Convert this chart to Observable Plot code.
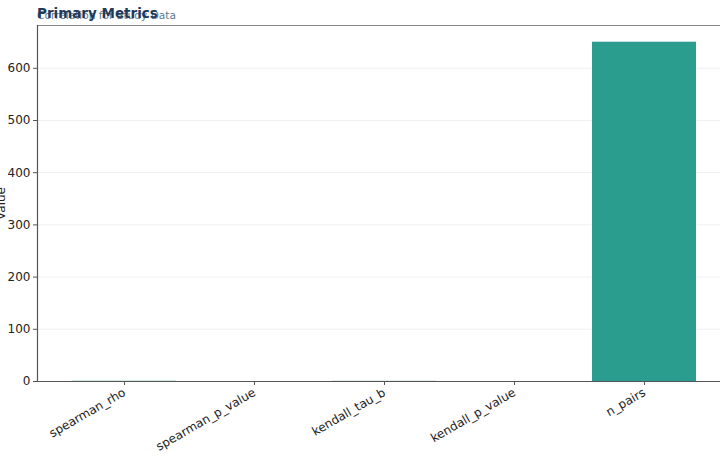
<!DOCTYPE html>
<html>
<head>
<meta charset="utf-8">
<script src="https://cdn.jsdelivr.net/npm/d3@7"></script>
<script src="https://cdn.jsdelivr.net/npm/@observablehq/plot@0.6"></script>
<style>
  html, body { margin: 0; padding: 0; background: #fff; overflow: hidden; }
  #wrap { position: relative; width: 720px; height: 460px; font-family: "DejaVu Sans", sans-serif; }
  #title { position: absolute; left: 37px; top: 5px; font-size: 13.5px; font-weight: bold; color: #1f3a5a; white-space: nowrap; z-index: 2; }
  #subtitle { position: absolute; left: 37px; top: 9px; font-size: 10.6px; color: #5b7a8f; white-space: nowrap; z-index: 1; }
  #chart { position: absolute; left: 0; top: 0; }
</style>
</head>
<body>
<div id="wrap">
  <div id="chart"></div>
  <div id="subtitle"></div>
  <div id="title"></div>
</div>
<script>
const titleText = "Primary Metrics";
const subtitleText = "Correlation for Study Data";
const categories = ["spearman_rho", "spearman_p_value", "kendall_tau_b", "kendall_p_value", "n_pairs"];
const values = [0.42, 0.0001, 0.3, 0.0001, 650];
const yTicks = [0, 100, 200, 300, 400, 500, 600];

document.getElementById("title").textContent = titleText;
document.getElementById("subtitle").textContent = subtitleText;

const data = categories.map((c, i) => ({metric: c, value: values[i]}));

const chart = Plot.plot({
  width: 720,
  height: 460,
  marginLeft: 37,
  marginRight: 0,
  marginTop: 25,
  marginBottom: 79,
  style: {fontFamily: "DejaVu Sans, sans-serif", fontSize: "12px", color: "#222", background: "#fff", overflow: "visible"},
  x: {domain: categories, range: [39, 729], paddingInner: 0.2, paddingOuter: 0.235, label: null},
  y: {domain: [0, 682], range: [381, 25], label: null},
  marks: [
    Plot.ruleY(yTicks, {stroke: "#ebebeb", strokeWidth: 0.8}),
    Plot.barY(data, {x: "metric", y: "value", fill: "#2a9d8f"}),
    Plot.frame({anchor: "top", stroke: "#888", strokeWidth: 1.2}),
    Plot.frame({anchor: "left", stroke: "#555", strokeWidth: 1.2}),
    Plot.frame({anchor: "bottom", stroke: "#555", strokeWidth: 1.2}),
    Plot.axisY({ticks: yTicks, tickSize: 4, tickPadding: 3, fontSize: 12, stroke: "#555",
      label: "Value", labelAnchor: "center", labelArrow: "none", labelOffset: 41}),
    Plot.axisX({tickSize: 4, tickPadding: 6, tickRotate: -30, fontSize: 12, stroke: "#555", label: null})
  ]
});
document.getElementById("chart").appendChild(chart);
</script>
</body>
</html>
